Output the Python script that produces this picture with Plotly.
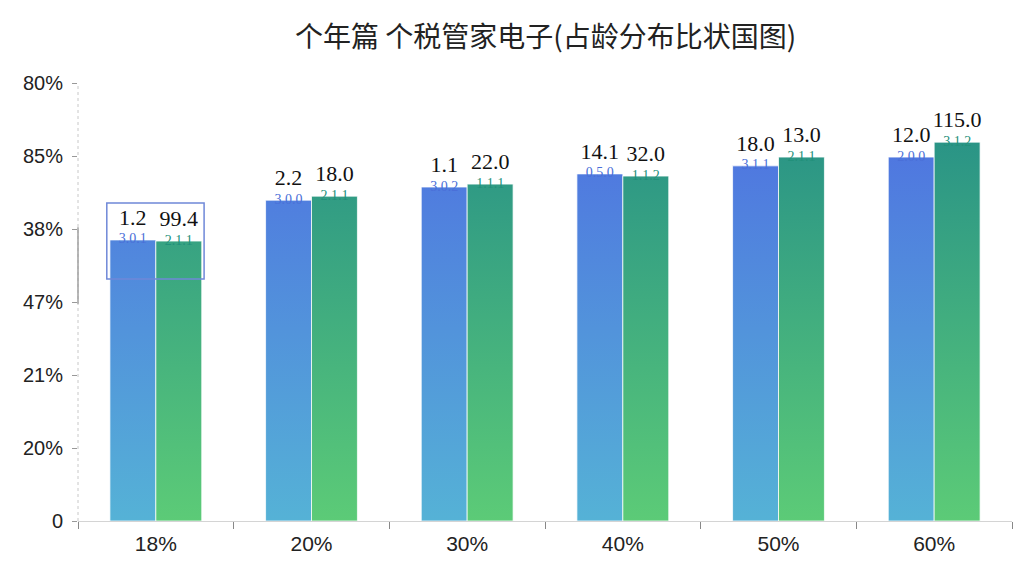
import plotly.graph_objects as go

# data
categories = ["18%", "20%", "30%", "40%", "50%", "60%"]
blue_values = [77.0, 87.9, 91.5, 95.1, 97.3, 99.7]
green_values = [76.7, 89.0, 92.3, 94.5, 99.7, 103.8]
blue_labels = ["1.2", "2.2", "1.1", "14.1", "18.0", "12.0"]
green_labels = ["99.4", "18.0", "22.0", "32.0", "13.0", "115.0"]
blue_small = ["3.0.1", "3.0.0", "3.0.2", "0.5.0", "3.1.1", "2.0.0"]
green_small = ["2.1.1", "2.1.1", "1.1.1", "1.1.2", "2.1.1", "3.1.2"]
y_tick_values = [0, 20, 40, 60, 80, 100, 120]
y_tick_text = ["0", "20%", "21%", "47%", "38%", "85%", "80%"]
title = "个年篇 个税管家电子(占龄分布比状国图)"

BAR_W = 0.295
positions = list(range(len(categories)))


def bar_outline(values, offset):
    xs, ys = [], []
    for pos, val in zip(positions, values):
        left = pos + offset
        right = left + BAR_W
        xs += [left, right, right, left, left, None]
        ys += [0, 0, val, val, 0, None]
    return xs, ys


def bar_trace(values, offset, bottom, top, name):
    xs, ys = bar_outline(values, offset)
    return go.Scatter(
        x=xs,
        y=ys,
        mode="lines",
        fill="toself",
        fillgradient={
            "type": "vertical",
            "colorscale": [[0, bottom], [1, top]],
            "start": 0,
            "stop": 104,
        },
        line={"color": "rgba(255,255,255,0.75)", "width": 1},
        name=name,
        hoverinfo="skip",
        showlegend=False,
    )


fig = go.Figure()
fig.add_trace(bar_trace(blue_values, -BAR_W, "#55b2d6", "#4f75e0", "blue"))
fig.add_trace(bar_trace(green_values, 0, "#5ccb77", "#2a9486", "green"))

blue_centers = [p - BAR_W / 2 for p in positions]
green_centers = [p + BAR_W / 2 for p in positions]

# big serif labels above the bars
fig.add_trace(
    go.Scatter(
        x=blue_centers + green_centers,
        y=[v + 2.6 for v in blue_values] + [v + 2.6 for v in green_values],
        mode="text",
        text=blue_labels + green_labels,
        textposition="top center",
        textfont={"family": "Liberation Serif, DejaVu Serif, serif", "size": 22, "color": "#111111"},
        hoverinfo="skip",
        showlegend=False,
    )
)
# small garbled labels sitting on the bar tops
fig.add_trace(
    go.Scatter(
        x=blue_centers,
        y=blue_values,
        mode="text",
        text=blue_small,
        textposition="middle center",
        textfont={"family": "Liberation Serif, serif", "size": 14, "color": "#4a6fd8"},
        hoverinfo="skip",
        showlegend=False,
    )
)
fig.add_trace(
    go.Scatter(
        x=green_centers,
        y=green_values,
        mode="text",
        text=green_small,
        textposition="middle center",
        textfont={"family": "Liberation Serif, serif", "size": 14, "color": "#22907a"},
        hoverinfo="skip",
        showlegend=False,
    )
)

# highlight box around first group
fig.add_shape(
    type="rect", x0=-0.315, x1=0.31, y0=66.3, y1=87.1,
    line={"color": "#6f88d8", "width": 1.5}, fillcolor="rgba(0,0,0,0)",
)
# dotted y axis line and darker segment
fig.add_shape(
    type="line", xref="paper", x0=0, x1=0, y0=0, y1=120,
    line={"color": "#c8c8c8", "width": 1, "dash": "dot"},
)
fig.add_shape(
    type="line", xref="paper", x0=0, x1=0, y0=59.5, y1=80.5,
    line={"color": "#a0a0a0", "width": 1.5},
)

# the page puts the figure 8px in from the top-left corner; margins allow for it
fig.update_layout(
    title={
        "text": title,
        "x": 0.525,
        "xanchor": "center",
        "y": 0.95,
        "yanchor": "middle",
        "font": {"family": "Noto Sans CJK SC, sans-serif", "size": 28, "color": "#222222"},
    },
    width=1024,
    height=576,
    plot_bgcolor="white",
    paper_bgcolor="white",
    margin={"l": 70, "r": 20, "t": 75, "b": 63},
    font={"family": "Liberation Sans, Arial, sans-serif", "size": 20, "color": "#222222"},
)
fig.update_xaxes(
    range=[-0.5, 5.5],
    tickvals=positions,
    ticktext=categories,
    ticks="",
    ticklabelstandoff=4,
    showgrid=False,
    zeroline=False,
    showline=True,
    linecolor="#d4d4d4",
    linewidth=1,
    tickfont={"size": 21, "color": "#222222"},
    minor={
        "tickvals": [p - 0.5 for p in positions] + [5.5],
        "ticks": "outside",
        "ticklen": 7,
        "tickcolor": "#888888",
        "tickwidth": 1,
        "showgrid": False,
    },
)
fig.update_yaxes(
    range=[0, 120],
    tickvals=y_tick_values,
    ticktext=y_tick_text,
    ticks="outside",
    ticklen=5,
    tickcolor="#999999",
    ticklabelstandoff=5,
    showgrid=False,
    zeroline=False,
    showline=False,
    tickfont={"size": 20, "color": "#222222"},
)

fig.write_html("out.html")
